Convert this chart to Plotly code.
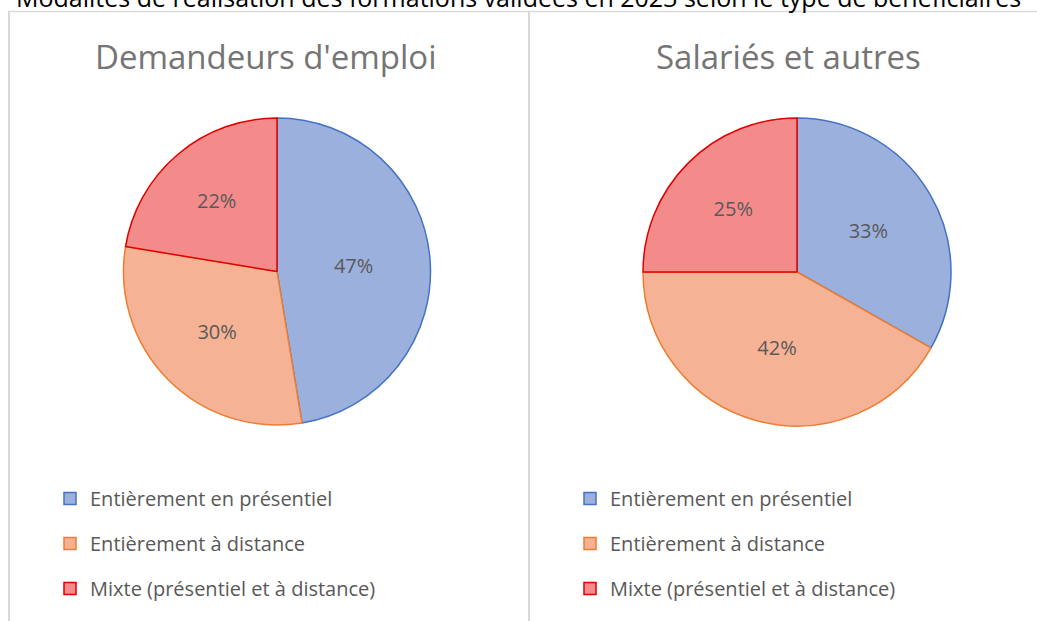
import plotly.graph_objects as go

W, H = 1037, 621

title_main = "Modalités de réalisation des formations validées en 2023 selon le type de bénéficiaires"
categories = ["Entièrement en présentiel", "Entièrement à distance", "Mixte (présentiel et à distance)"]
group_names = ["Demandeurs d'emploi", "Salariés et autres"]
values_demandeurs = [47.4, 30.2, 22.4]
values_salaries = [33.2, 41.8, 25.0]

fill_colors = ["#9cb0dd", "#f5b295", "#f48b8b"]
line_colors = ["#4472c4", "#ed7d31", "#e00000"]

FONT = "Open Sans"
GRAY = "#595959"

def px_x(x):
    return x / W

def px_y(y):
    return 1 - y / H

fig = go.Figure()

pies = [
    (values_demandeurs, (277, 271.5), 153.5),
    (values_salaries, (797, 272), 154),
]
for vals, (cx, cy), r in pies:
    fig.add_trace(go.Pie(
        labels=categories,
        values=vals,
        sort=False,
        direction="clockwise",
        rotation=0,
        texttemplate="%{percent:.0%}",
        textposition="inside",
        insidetextorientation="horizontal",
        textfont=dict(family=FONT, size=20, color=GRAY),
        marker=dict(colors=fill_colors, line=dict(color=line_colors, width=1.5)),
        domain=dict(x=[px_x(cx - r), px_x(cx + r)], y=[px_y(cy + r), px_y(cy - r)]),
        showlegend=False,
        hoverinfo="label+percent",
    ))

# legend entries (one legend per panel)
for lg in ["legend", "legend2"]:
    for i, cat in enumerate(categories):
        fig.add_trace(go.Scatter(
            x=[None], y=[None], mode="markers", name=cat,
            legend=lg, legendgroup=f"{lg}_{i}",
            marker=dict(symbol="square", size=12, color=fill_colors[i],
                        line=dict(color=line_colors[i], width=1.5)),
            showlegend=True, hoverinfo="skip",
        ))

legend_common = dict(
    font=dict(family=FONT, size=20, color=GRAY),
    bgcolor="rgba(0,0,0,0)", borderwidth=0,
    tracegroupgap=16, itemwidth=30,
    xanchor="left", yanchor="top", orientation="v",
)

annotations = [
    dict(text=title_main, x=px_x(518), y=px_y(16), xref="paper", yref="paper",
         xanchor="center", yanchor="bottom", showarrow=False,
         font=dict(family=FONT, size=25, color="#000000")),
    dict(text=group_names[0], x=px_x(266), y=px_y(57), xref="paper", yref="paper",
         xanchor="center", yanchor="middle", showarrow=False,
         font=dict(family=FONT, size=33, color="#757575")),
    dict(text=group_names[1], x=px_x(788), y=px_y(57), xref="paper", yref="paper",
         xanchor="center", yanchor="middle", showarrow=False,
         font=dict(family=FONT, size=33, color="#757575")),
]

border = "#d9d9d9"
shapes = [
    dict(type="line", xref="paper", yref="paper", x0=px_x(8), x1=1, y0=px_y(11.5), y1=px_y(11.5),
         line=dict(color=border, width=1.5)),
    dict(type="line", xref="paper", yref="paper", x0=px_x(9), x1=px_x(9), y0=0, y1=px_y(11.5),
         line=dict(color=border, width=2)),
    dict(type="line", xref="paper", yref="paper", x0=px_x(529), x1=px_x(529), y0=0, y1=px_y(11.5),
         line=dict(color=border, width=2)),
]

fig.update_layout(
    width=W, height=H,
    margin=dict(l=0, r=0, t=0, b=0),
    paper_bgcolor="white", plot_bgcolor="white",
    xaxis=dict(visible=False), yaxis=dict(visible=False),
    legend=dict(x=px_x(50), y=px_y(479), **legend_common),
    legend2=dict(x=px_x(570), y=px_y(479), **legend_common),
    annotations=annotations,
    shapes=shapes,
    font=dict(family=FONT),
)

fig.write_html("out.html", config={"displayModeBar": False},
               post_script="document.body.style.margin='0';document.body.style.overflow='hidden';")
